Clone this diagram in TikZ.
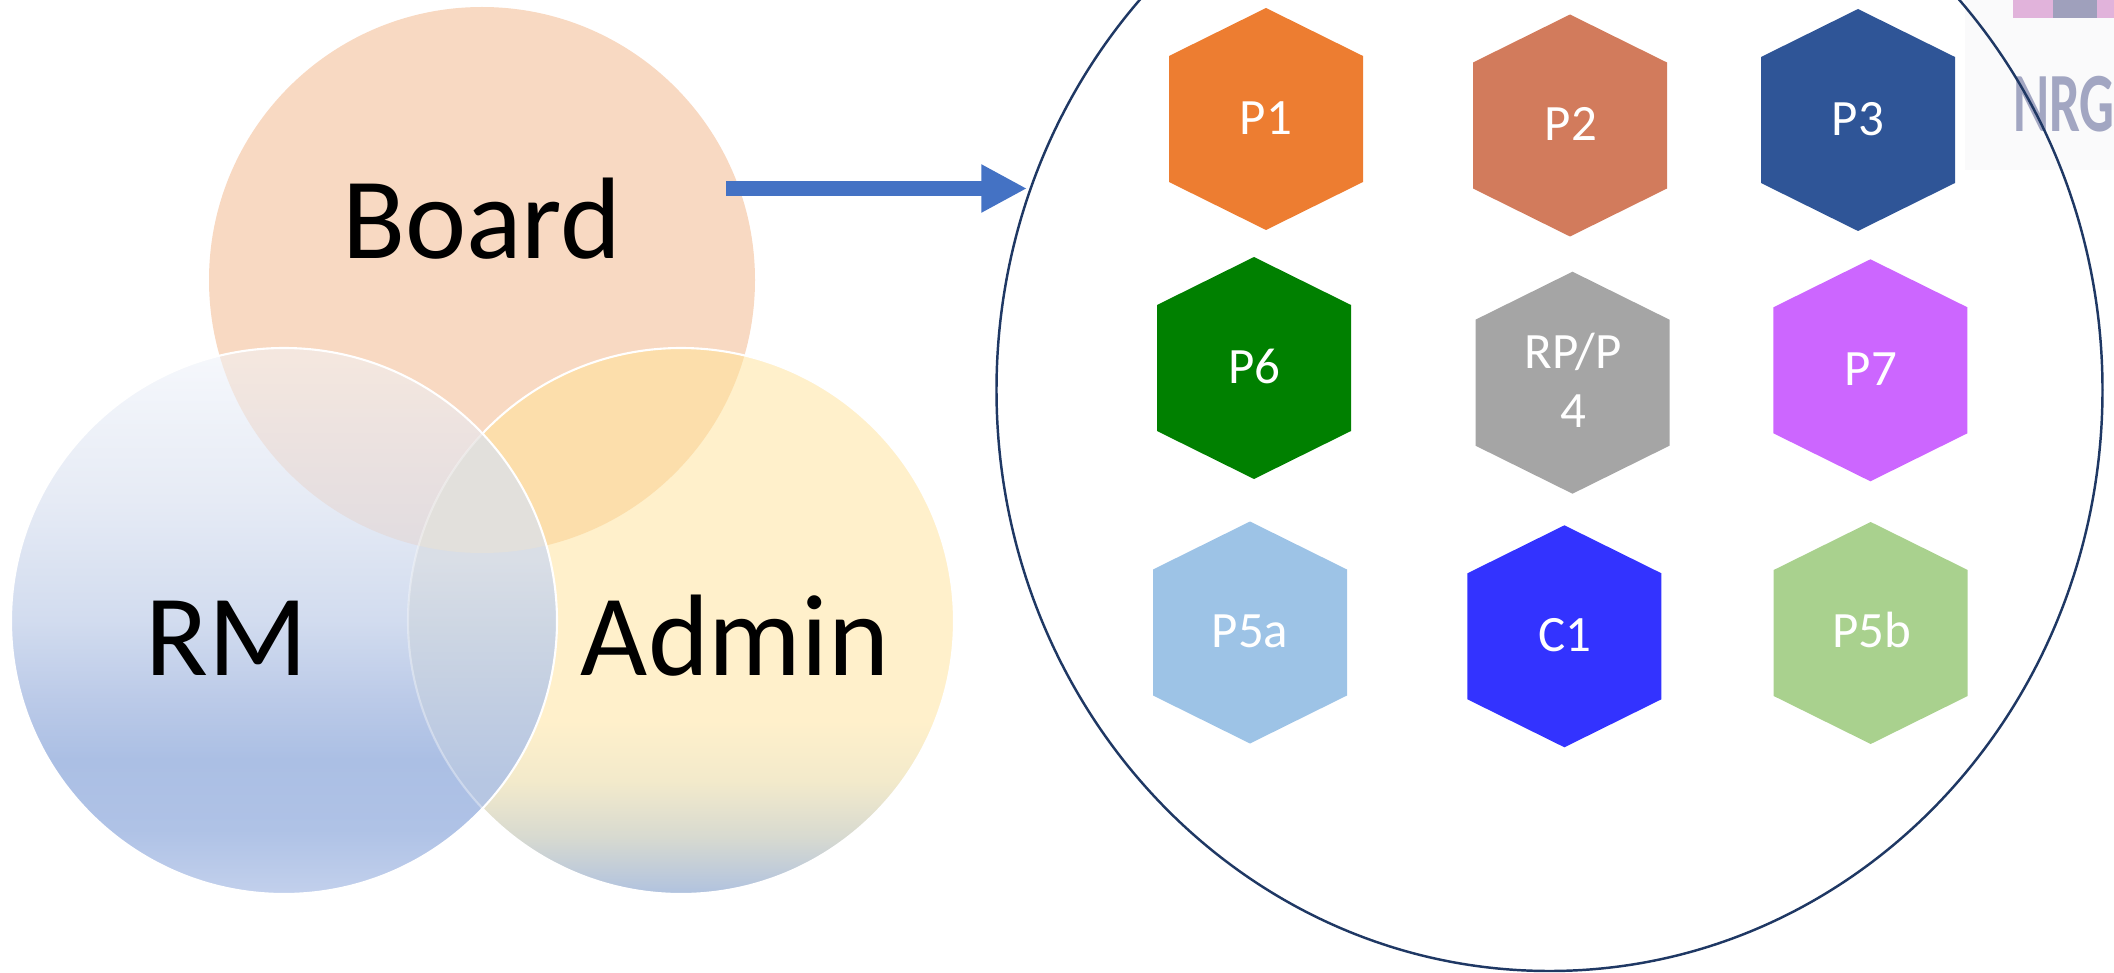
\documentclass[tikz,border=0pt]{standalone}
\usepackage{fontspec}
\setmainfont{Carlito}
\usetikzlibrary{arrows.meta}

\definecolor{boardfill}{HTML}{F8D9C2}
\definecolor{boardadmin}{HTML}{FCDEAB}
\definecolor{triple}{HTML}{E2E0DC}
\definecolor{rmA}{HTML}{C2D0EC}
\definecolor{rmB}{HTML}{AFC2E6}
\definecolor{rmC}{HTML}{ABBFE4}
\definecolor{rmD}{HTML}{BBCAE8}
\definecolor{rmE}{HTML}{D2DCEF}
\definecolor{rmF}{HTML}{E6EBF5}
\definecolor{rmG}{HTML}{F6F8FC}
\definecolor{adA}{HTML}{B0C2DF}
\definecolor{adB}{HTML}{D8DAD0}
\definecolor{adC}{HTML}{F3EACB}
\definecolor{adD}{HTML}{FFF0CB}
\definecolor{rbA}{HTML}{E1DCE0}
\definecolor{rbB}{HTML}{EAE1E0}
\definecolor{rbC}{HTML}{F4E7DF}
\definecolor{raA}{HTML}{B6C6E2}
\definecolor{raB}{HTML}{C2CEE2}
\definecolor{raC}{HTML}{CDD6E3}
\definecolor{raD}{HTML}{D9DEE6}
\definecolor{arrowblue}{HTML}{4472C4}
\definecolor{ringnavy}{HTML}{1F3864}
\definecolor{hexone}{HTML}{ED7D31}
\definecolor{hextwo}{HTML}{D27B5C}
\definecolor{hexthree}{HTML}{2F5597}
\definecolor{hexsix}{HTML}{008000}
\definecolor{hexfour}{HTML}{A5A5A5}
\definecolor{hexseven}{HTML}{CC66FF}
\definecolor{hexfivea}{HTML}{9DC3E6}
\definecolor{hexcone}{HTML}{3333FF}
\definecolor{hexfiveb}{HTML}{A9D18E}
\definecolor{panelgray}{HTML}{FAFAFB}
\definecolor{barpink}{HTML}{E1B3DB}
\definecolor{bargray}{HTML}{9FA0BC}
\definecolor{nrgtext}{HTML}{A2A6C2}

\pgfdeclareverticalshading{rmshade}{100bp}{color(0bp)=(rmA); color(25bp)=(rmA);
  color(30.9bp)=(rmB); color(37.3bp)=(rmC); color(42.8bp)=(rmD);
  color(50.1bp)=(rmE); color(61.1bp)=(rmF); color(75bp)=(rmG); color(100bp)=(rmG)}
\pgfdeclareverticalshading{adminshade}{100bp}{color(0bp)=(adA); color(25bp)=(adA);
  color(30.3bp)=(adB); color(35.4bp)=(adC); color(40.9bp)=(adD); color(100bp)=(adD)}
\pgfdeclareverticalshading{rmboard}{100bp}{color(0bp)=(rbA); color(56.5bp)=(rbA);
  color(65bp)=(rbB); color(74bp)=(rbC); color(100bp)=(rbC)}
\pgfdeclareverticalshading{rmadmin}{100bp}{color(0bp)=(raA); color(35.4bp)=(raA);
  color(42.8bp)=(raB); color(49.2bp)=(raC); color(55.6bp)=(raD); color(100bp)=(raD)}

\begin{document}
\begin{tikzpicture}
    [x=0.02cm, y=-0.02cm,
    venn label/.style={font=\fontsize{66}{70}\selectfont, anchor=base, inner sep=0pt},
    hex label/.style={text=white, font=\fontsize{29}{33.8}\selectfont, anchor=base,
      align=center, inner sep=0pt},
    venn line/.style={draw=white, line width=1.2pt},
    ring line/.style={draw=ringnavy, line width=1.4pt},
    flow arrow/.style={draw=arrowblue, line width=8.5pt,
      -{Triangle[length=26pt, width=25.6pt]}},
    hexagon/.pic={\path[pic actions] (0,-111) -- (97,-63) -- (97,63) -- (0,111)
      -- (-97,63) -- (-97,-63) -- cycle;}]
    \useasboundingbox (0,0) rectangle (2114,973);

    % venn circles
    \fill[boardfill] (482,280) circle[radius=273];
    \shade[shading=adminshade] (681,621) circle[radius=273];
    \shade[shading=rmshade] (284,621) circle[radius=273];
    \begin{scope}
      \clip (482,280) circle[radius=273];
      \fill[boardadmin] (681,621) circle[radius=273];
      \shade[shading=rmboard] (284,621) circle[radius=273];
    \end{scope}
    \begin{scope}
      \clip (681,621) circle[radius=273];
      \shade[shading=rmadmin] (284,621) circle[radius=273];
      \clip (482,280) circle[radius=273];
      \fill[triple] (284,621) circle[radius=273];
    \end{scope}
    \begin{scope}[even odd rule]
      \clip (0,0) rectangle (1000,973) (284,621) circle[radius=273];
      \draw[venn line] (681,621) circle[radius=273];
    \end{scope}
    \begin{scope}
      \clip (284,621) circle[radius=273];
      \draw[venn line, draw opacity=.35] (681,621) circle[radius=273];
    \end{scope}
    \draw[venn line] (284,621) circle[radius=273];

    \node[venn label] (board) at (482,259) {Board};
    \node[venn label] (rm) at (227,675) {RM};
    \node[venn label] (admin) at (735,675) {Admin};

    % corner of the next slide
    \fill[panelgray] (1965,0) rectangle (2114,170);
    \fill[barpink] (2013,0) rectangle (2114,18);
    \fill[bargray] (2053,0) rectangle (2097,18);
    \node[text=nrgtext, font=\fontsize{48}{50}\selectfont\bfseries, anchor=base west,
      inner sep=0pt, xscale=0.65] (nrg) at (2013,132) {NRG};

    % members
    \draw[ring line] (1549.5,390) ellipse[x radius=553, y radius=581];
    \coordinate (arrow start) at (726,188.5);
    \coordinate (arrow end) at (1027,188.5);
    \draw[flow arrow] (arrow start) -- (arrow end);

    \pic[fill=hexone] at (1266,119) {hexagon};
    \pic[fill=hextwo] at (1570,125.5) {hexagon};
    \pic[fill=hexthree] at (1858,120) {hexagon};
    \pic[fill=hexsix] at (1254,368) {hexagon};
    \pic[fill=hexfour] at (1572.5,382.7) {hexagon};
    \pic[fill=hexseven] at (1870.4,370.3) {hexagon};
    \pic[fill=hexfivea] at (1250,632.5) {hexagon};
    \pic[fill=hexcone] at (1564.4,636.3) {hexagon};
    \pic[fill=hexfiveb] at (1870.7,633) {hexagon};

    \node[hex label] (p1) at (1266,135) {P1};
    \node[hex label] (p2) at (1571,140.7) {P2};
    \node[hex label] (p3) at (1858,135.5) {P3};
    \node[hex label] (p6) at (1254.6,383.3) {P6};
    \node[hex label] (rpp4) at (1573,427.7) {RP/P\\4};
    \node[hex label] (p7) at (1871,385) {P7};
    \node[hex label] (p5a) at (1250,647.3) {P5a};
    \node[hex label] (c1) at (1564.5,651) {C1};
    \node[hex label] (p5b) at (1872,647.7) {P5b};
  \end{tikzpicture}
\end{document}
